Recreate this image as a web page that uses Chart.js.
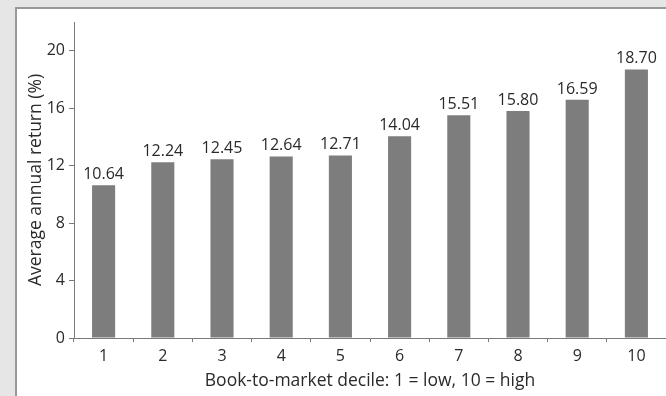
<!DOCTYPE html>
<html>
<head>
<meta charset="utf-8">
<script src="https://cdn.jsdelivr.net/npm/chart.js@4"></script>
<style>
  html, body { margin: 0; padding: 0; }
  body { width: 666px; height: 396px; background: #e6e6e6; position: relative; overflow: hidden; }
  #panel { position: absolute; left: 15px; top: 7px; width: 700px; height: 420px;
           background: #fff; border-left: 2px solid #999; border-top: 2px solid #999; }
  #wrap { position: absolute; left: 0; top: 0; width: 666px; height: 396px; }
</style>
</head>
<body>
<div id="panel"></div>
<div id="wrap"><canvas id="chart" width="666" height="396"></canvas></div>
<script>
// decile returns
const deciles = ['1', '2', '3', '4', '5', '6', '7', '8', '9', '10'];
const returns = [10.64, 12.24, 12.45, 12.64, 12.71, 14.04, 15.51, 15.80, 16.59, 18.70];
const yTicks = [0, 4, 8, 12, 16, 20];

const textColor = '#2a2a2a';
const axisColor = '#7a7a7a';
const tickFont = { family: 'Open Sans', size: 16 };
const titleFont = { family: 'Open Sans', size: 17.5 };

// value labels above each bar
const valueLabels = {
    id: 'valueLabels',
    afterDatasetsDraw(chart) {
        const ctx = chart.ctx;
        const meta = chart.getDatasetMeta(0);
        ctx.save();
        ctx.font = '16px "Open Sans"';
        ctx.fillStyle = textColor;
        ctx.textAlign = 'center';
        ctx.textBaseline = 'alphabetic';
        meta.data.forEach((bar, i) => {
            ctx.fillText(returns[i].toFixed(2), bar.x, bar.y - 6);
        });
        ctx.restore();
    }
};

const ctx = document.getElementById('chart').getContext('2d');
const chart = new Chart(ctx, {
    type: 'bar',
    data: {
        labels: deciles,
        datasets: [{
            data: returns,
            backgroundColor: '#7d7d7d',
            barPercentage: 0.39,
            categoryPercentage: 1
        }]
    },
    options: {
        responsive: false,
        animation: false,
        layout: { padding: { top: 22, left: 0, right: 0, bottom: 0 } },
        plugins: { legend: { display: false }, tooltip: { enabled: false } },
        scales: {
            x: {
                afterFit(scale) { scale.height = 58; },
                grid: { drawOnChartArea: false, drawTicks: true, tickLength: 4, color: axisColor, offset: true },
                border: { color: axisColor, width: 1 },
                ticks: { color: textColor, font: tickFont, padding: 5, maxRotation: 0 },
                title: {
                    display: true,
                    text: 'Book-to-market decile: 1 = low, 10 = high',
                    color: textColor,
                    font: titleFont,
                    padding: { top: 0, bottom: 4.5 }
                }
            },
            y: {
                min: 0,
                max: 22,
                afterFit(scale) { scale.width = 74; },
                afterBuildTicks(scale) { scale.ticks = yTicks.map(v => ({ value: v })); },
                grid: { drawOnChartArea: false, drawTicks: true, tickLength: 5, color: axisColor },
                border: { color: axisColor, width: 1 },
                ticks: { color: textColor, font: tickFont, padding: 4 },
                title: {
                    display: true,
                    text: 'Average annual return (%)',
                    color: textColor,
                    font: titleFont,
                    padding: { top: 26, bottom: 0 }
                }
            }
        }
    },
    plugins: [valueLabels]
});
</script>
</body>
</html>
